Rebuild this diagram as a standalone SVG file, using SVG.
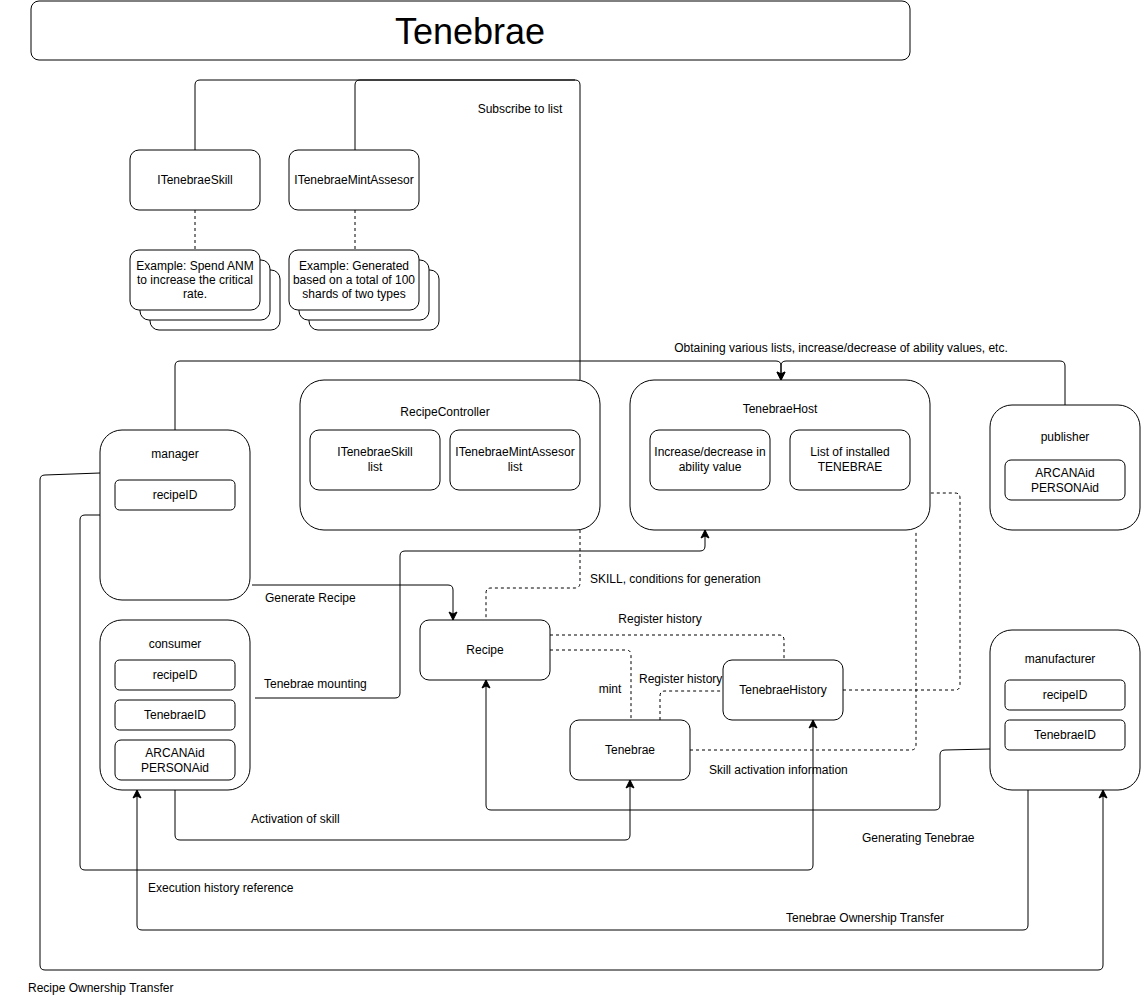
<svg xmlns="http://www.w3.org/2000/svg" width="1141" height="1002" viewBox="0 0 1141 1002">
<defs>
<marker id="arr" markerUnits="userSpaceOnUse" markerWidth="10" markerHeight="10" viewBox="0 0 10 10" refX="9" refY="5" orient="auto">
<path d="M1,1 L9,5 L1,9 L3,5 Z" fill="#000" stroke="#000" stroke-width="1"/>
</marker>
</defs>
<style>
.b{fill:#fff;stroke:#000;stroke-width:1}
.t{font-family:"Liberation Sans",Arial,sans-serif;font-size:12px;fill:#000;text-anchor:middle}
.l{font-family:"Liberation Sans",Arial,sans-serif;font-size:12px;fill:#000}
.c{fill:none;stroke:#000;stroke-width:1}
.d{fill:none;stroke:#000;stroke-width:1;stroke-dasharray:3 3}
.a{marker-end:url(#arr)}
</style>
<rect width="1141" height="1002" fill="#fff"/>

<g id="title">
<rect class="b" x="31" y="1" width="879" height="59" rx="8"/>
<text x="470" y="44" style="font-family:'Liberation Sans',Arial,sans-serif;font-size:36px;text-anchor:middle">Tenebrae</text>
</g>

<g id="connectors">
<path class="c" d="M195,150 V85 Q195,80 200,80 H575 Q580,80 580,85 V380"/>
<path class="c" d="M355,150 V85 Q355,80 360,80 H575"/>
<path class="d" d="M195,210 V250"/>
<path class="d" d="M355,210 V250"/>
<path class="c a" d="M175,430 V366 Q175,361 180,361 H776 Q781,361 781,366 V380"/>
<path class="c a" d="M1065,405 V366 Q1065,361 1060,361 H786 Q781,361 781,366 V380"/>
<path class="c a" d="M252,585 H448 Q453,585 453,590 V620"/>
<path class="c a" d="M255,698 H395 Q400,698 400,693 V556 Q400,551 405,551 H700 Q705,551 705,546 V530"/>
<path class="d" d="M580,530 V583 Q580,588 575,588 H491 Q486,588 486,593 V620"/>
<path class="d" d="M550,635 H779 Q784,635 784,640 V660"/>
<path class="d" d="M550,650 H626 Q631,650 631,655 V720"/>
<path class="d" d="M660,720 V696 Q660,691 665,691 H723"/>
<path class="d" d="M843,690 H955 Q960,690 960,685 V498 Q960,493 955,493 H930"/>
<path class="d" d="M690,750 H911 Q916,750 916,745 V530"/>
<path class="c a" d="M990,749 L945,750 Q940,750 940,755 V805 Q940,810 935,810 H491 Q486,810 486,805 V680"/>
<path class="c a" d="M175,790 V835 Q175,840 180,840 H625 Q630,840 630,835 V780"/>
<path class="c a" d="M100,515 H85 Q80,515 80,520 V865 Q80,870 85,870 H808 Q813,870 813,865 V720"/>
<path class="c a" d="M1028,790 V925 Q1028,930 1023,930 H142 Q137,930 137,925 V790"/>
<path class="c a" d="M100,473 L45,475 Q40,475 40,480 V965 Q40,970 45,970 H1098 Q1103,970 1103,965 V790"/>
<text class="t" x="520" y="113">Subscribe to list</text>
<text class="t" x="841" y="352">Obtaining various lists, increase/decrease of ability values, etc.</text>
<text class="l" x="265" y="602">Generate Recipe</text>
<text class="l" x="264" y="688">Tenebrae mounting</text>
<text class="l" x="590" y="583">SKILL, conditions for generation</text>
<text class="t" x="660" y="623">Register history</text>
<text class="t" x="610" y="693">mint</text>
<text class="l" x="639" y="683">Register history</text>
<text class="l" x="709" y="774">Skill activation information</text>
<text class="l" x="862" y="842">Generating Tenebrae</text>
<text class="l" x="251" y="823">Activation of skill</text>
<text class="l" x="148" y="892">Execution history reference</text>
<text class="l" x="786" y="922">Tenebrae Ownership Transfer</text>
<text class="l" x="28" y="992">Recipe Ownership Transfer</text>
</g>

<g id="ITenebraeSkill">
<rect class="b" x="130" y="150" width="130" height="60" rx="9"/>
<text class="t" x="195" y="184">ITenebraeSkill</text>
</g>
<g id="ITenebraeMintAssesor">
<rect class="b" x="289" y="150" width="130" height="60" rx="9"/>
<text class="t" x="354" y="184">ITenebraeMintAssesor</text>
</g>

<g id="skillExample">
<rect class="b" x="150" y="270" width="130" height="60" rx="9"/>
<rect class="b" x="140" y="260" width="130" height="60" rx="9"/>
<rect class="b" x="130" y="250" width="130" height="60" rx="9"/>
<text class="t" x="195" y="270">Example: Spend ANM</text>
<text class="t" x="195" y="284">to increase the critical</text>
<text class="t" x="195" y="298">rate.</text>
</g>
<g id="mintExample">
<rect class="b" x="309" y="270" width="130" height="60" rx="9"/>
<rect class="b" x="299" y="260" width="130" height="60" rx="9"/>
<rect class="b" x="289" y="250" width="130" height="60" rx="9"/>
<text class="t" x="354" y="270">Example: Generated</text>
<text class="t" x="354" y="284">based on a total of 100</text>
<text class="t" x="354" y="298">shards of two types</text>
</g>

<g id="RecipeController">
<rect class="b" x="300" y="380" width="300" height="150" rx="24"/>
<text class="t" x="445" y="416">RecipeController</text>
<rect class="b" x="310" y="430" width="130" height="60" rx="9"/>
<text class="t" x="375" y="456">ITenebraeSkill</text>
<text class="t" x="375" y="471">list</text>
<rect class="b" x="450" y="430" width="130" height="60" rx="9"/>
<text class="t" x="515" y="456">ITenebraeMintAssesor</text>
<text class="t" x="515" y="471">list</text>
</g>

<g id="TenebraeHost">
<rect class="b" x="630" y="380" width="300" height="150" rx="24"/>
<text class="t" x="780" y="413">TenebraeHost</text>
<rect class="b" x="650" y="430" width="120" height="60" rx="9"/>
<text class="t" x="710" y="456">Increase/decrease in</text>
<text class="t" x="710" y="471">ability value</text>
<rect class="b" x="790" y="430" width="120" height="60" rx="9"/>
<text class="t" x="850" y="456">List of installed</text>
<text class="t" x="850" y="471">TENEBRAE</text>
</g>

<g id="publisher">
<rect class="b" x="990" y="405" width="150" height="125" rx="22"/>
<text class="t" x="1065" y="441">publisher</text>
<rect class="b" x="1005" y="460" width="120" height="40" rx="6"/>
<text class="t" x="1065" y="477">ARCANAid</text>
<text class="t" x="1065" y="492">PERSONAid</text>
</g>

<g id="manager">
<rect class="b" x="100" y="430" width="150" height="170" rx="22"/>
<text class="t" x="175" y="458">manager</text>
<rect class="b" x="115" y="480" width="120" height="30" rx="4.5"/>
<text class="t" x="175" y="499">recipeID</text>
</g>

<g id="consumer">
<rect class="b" x="100" y="620" width="150" height="170" rx="22"/>
<text class="t" x="175" y="648">consumer</text>
<rect class="b" x="115" y="660" width="120" height="30" rx="4.5"/>
<text class="t" x="175" y="679">recipeID</text>
<rect class="b" x="115" y="700" width="120" height="30" rx="4.5"/>
<text class="t" x="175" y="719">TenebraeID</text>
<rect class="b" x="115" y="740" width="120" height="40" rx="6"/>
<text class="t" x="175" y="757">ARCANAid</text>
<text class="t" x="175" y="772">PERSONAid</text>
</g>

<g id="manufacturer">
<rect class="b" x="990" y="630" width="150" height="160" rx="22"/>
<text class="t" x="1060" y="663">manufacturer</text>
<rect class="b" x="1005" y="680" width="120" height="30" rx="4.5"/>
<text class="t" x="1065" y="699">recipeID</text>
<rect class="b" x="1005" y="720" width="120" height="30" rx="4.5"/>
<text class="t" x="1065" y="739">TenebraeID</text>
</g>

<g id="Recipe">
<rect class="b" x="420" y="620" width="130" height="60" rx="9"/>
<text class="t" x="485" y="654">Recipe</text>
</g>
<g id="TenebraeHistory">
<rect class="b" x="723" y="660" width="120" height="60" rx="9"/>
<text class="t" x="783" y="694">TenebraeHistory</text>
</g>
<g id="Tenebrae">
<rect class="b" x="570" y="720" width="120" height="60" rx="9"/>
<text class="t" x="630" y="754">Tenebrae</text>
</g>
</svg>
